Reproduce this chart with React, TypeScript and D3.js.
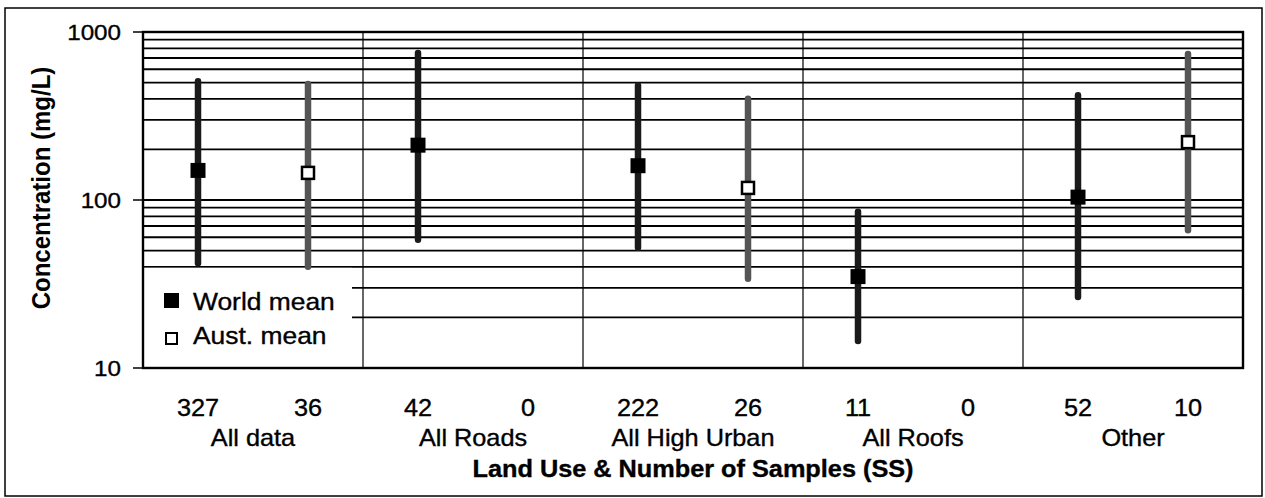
import React from "react";
import * as d3 from "d3";

const categories = ["All data", "All Roads", "All High Urban", "All Roofs", "Other"];
const worldCounts = [327, 42, 222, 11, 52];
const austCounts = [36, 0, 26, 0, 10];
const worldMean = [150, 212, 160, 35, 104];
const worldMin = [42, 58, 52, 14.5, 26.5];
const worldMax = [510, 750, 480, 85, 420];
const austMean: (number | null)[] = [145, null, 118, null, 221];
const austMin: (number | null)[] = [40, null, 34, null, 66];
const austMax: (number | null)[] = [490, null, 400, null, 740];
const yTicks = [10, 100, 1000];
const gridValues = [20, 30, 40, 50, 60, 70, 80, 90, 100, 200, 300, 400, 500, 600, 700, 800, 900];
const legendLabels = ["World mean", "Aust. mean"];
const yTitle = "Concentration (mg/L)";
const xTitle = "Land Use & Number of Samples (SS)";

const W = 1265, H = 498;
const L = 143, R = 1243, T = 32, B = 368;
const FONT = "'Liberation Sans', Arial, Helvetica, sans-serif";
const SX = 1.1;

const T_ = ({ x, y, children, size = 22, anchor = "middle", bold = false }: any) => (
  <text
    transform={`translate(${x},${y}) scale(${SX},1)`}
    textAnchor={anchor}
    fontSize={size}
    fontWeight={bold ? "bold" : "normal"}
    fontFamily={FONT}
    fill="#000"
    stroke="#000"
    strokeWidth={0.35}
  >
    {children}
  </text>
);

export default function App() {
  const y = d3.scaleLog().domain([10, 1000]).range([B, T]);
  const x = d3.scaleBand().domain(categories).range([L, R]).padding(0);
  const bw = x.bandwidth();
  const wx = (i: number) => (x(categories[i]) as number) + bw * 0.25;
  const ax = (i: number) => (x(categories[i]) as number) + bw * 0.75;

  return (
    <svg width={W} height={H} style={{ position: "absolute", left: 0, top: 0, background: "#fff" }}>
      <rect x={0} y={0} width={W} height={H} fill="#fff" />
      {/* outer frame */}
      <rect x={5} y={8} width={1257} height={488} fill="none" stroke="#000" strokeWidth={1.5} />

      {/* horizontal gridlines */}
      {gridValues.map((v) => (
        <line key={v} x1={L} x2={R} y1={y(v)} y2={y(v)} stroke="#000" strokeWidth={1.8} />
      ))}
      {/* category dividers */}
      {categories.slice(1).map((c) => (
        <line key={c} x1={x(c)} x2={x(c)} y1={T} y2={B} stroke="#000" strokeWidth={1.2} />
      ))}

      {/* legend box (covers gridlines) */}
      <rect x={L + 1} y={y(40) + 1} width={352 - L - 1} height={B - y(40) - 2} fill="#fff" />

      {/* plot border */}
      <rect x={L} y={T} width={R - L} height={B - T} fill="none" stroke="#000" strokeWidth={2.4} />

      {/* y ticks */}
      {yTicks.map((v) => (
        <g key={v}>
          <line x1={L - 10} x2={L} y1={y(v)} y2={y(v)} stroke="#000" strokeWidth={1.5} />
          <T_ x={121} y={y(v) + 8} anchor="end" size={22}>{v}</T_>
        </g>
      ))}

      {/* world bars */}
      {categories.map((c, i) => (
        <g key={"w" + c}>
          <line x1={wx(i)} x2={wx(i)} y1={y(worldMin[i])} y2={y(worldMax[i])} stroke="#1a1a1a" strokeWidth={6.5} strokeLinecap="round" />
          <rect x={wx(i) - 7.5} y={y(worldMean[i]) - 7.5} width={15} height={15} fill="#000" />
        </g>
      ))}
      {/* aust bars */}
      {categories.map((c, i) =>
        austMean[i] == null ? null : (
          <g key={"a" + c}>
            <line x1={ax(i)} x2={ax(i)} y1={y(austMin[i] as number)} y2={y(austMax[i] as number)} stroke="#555" strokeWidth={6.5} strokeLinecap="round" />
            <rect x={ax(i) - 6} y={y(austMean[i] as number) - 6} width={12} height={12} fill="#fff" stroke="#000" strokeWidth={2.5} />
          </g>
        )
      )}

      {/* legend */}
      <rect x={164} y={293} width={15} height={15} fill="#000" />
      <T_ x={193} y={310} anchor="start" size={24}>{legendLabels[0]}</T_>
      <rect x={166} y={333} width={11} height={11} fill="#fff" stroke="#000" strokeWidth={2} />
      <T_ x={193} y={344} anchor="start" size={24}>{legendLabels[1]}</T_>

      {/* x labels */}
      {categories.map((c, i) => (
        <g key={"l" + c}>
          <T_ x={wx(i)} y={416} size={23}>{worldCounts[i]}</T_>
          <T_ x={ax(i)} y={416} size={23}>{austCounts[i]}</T_>
          <T_ x={(x(c) as number) + bw / 2} y={446} size={23}>{c}</T_>
        </g>
      ))}

      {/* axis titles */}
      <T_ x={(L + R) / 2} y={477} size={23} bold>{xTitle}</T_>
      <text
        transform={`translate(50,188) scale(${SX},1) rotate(-90)`}
        textAnchor="middle"
        fontSize={24}
        fontWeight="bold"
        fontFamily={FONT}
      >
        {yTitle}
      </text>
    </svg>
  );
}
